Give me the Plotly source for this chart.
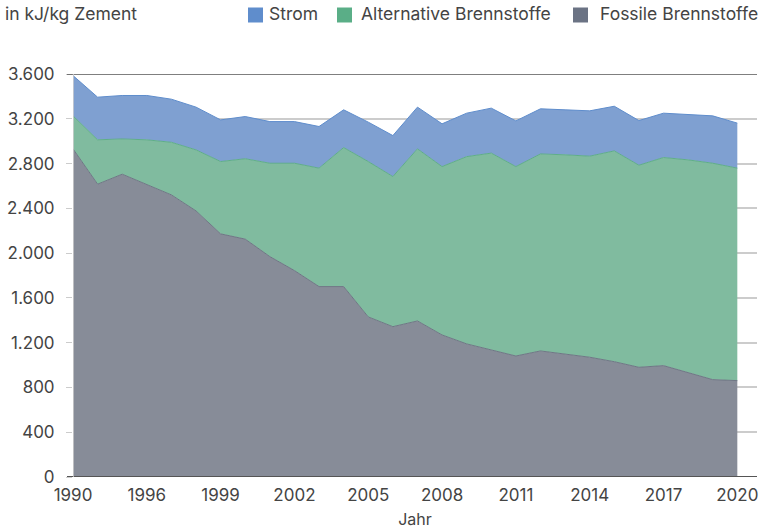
import plotly.graph_objects as go

years = ["1990", "1994", "1995", "1996", "1997", "1998", "1999", "2000", "2001", "2002",
         "2003", "2004", "2005", "2006", "2007", "2008", "2009", "2010", "2011", "2012",
         "2013", "2014", "2015", "2016", "2017", "2018", "2019", "2020"]
fossile = [2931, 2616, 2705, 2609, 2520, 2377, 2172, 2125, 1969, 1844, 1701, 1701, 1430, 1343,
           1394, 1269, 1189, 1135, 1081, 1126, 1099, 1070, 1030, 980, 995, 932, 870, 861]
alternative = [295, 396, 315, 403, 470, 545, 646, 718, 834, 959, 1058, 1242, 1388, 1341,
               1537, 1504, 1673, 1758, 1692, 1760, 1779, 1796, 1883, 1805, 1859, 1901, 1933, 1898]
strom = [360, 381, 388, 396, 385, 382, 372, 377, 372, 372, 372, 337, 352, 366,
         373, 382, 388, 402, 408, 403, 402, 405, 399, 399, 396, 408, 423, 402]
y_ticks = [0, 400, 800, 1200, 1600, 2000, 2400, 2800, 3200, 3600]
y_ticktext = ["0", "400", "800", "1.200", "1.600", "2.000", "2.400", "2.800", "3.200", "3.600"]
x_ticktext = ["1990", "1996", "1999", "2002", "2005", "2008", "2011", "2014", "2017", "2020"]

FONT = "Inter"
TXT = "#444444"
idx = list(range(len(years)))
tick_idx = [years.index(t) for t in x_ticktext]

W, H = 760, 529
L, R, T, B = 73, 3, 74, 52
PW, PH = W - L - R, H - T - B

def px_x(x):
    return (x - L) / PW

def px_y(y):
    return (H - B - y) / PH

fig = go.Figure()
series = [
    ("Fossile Brennstoffe", fossile, "#878c98", "#6f7685", "#6b7384"),
    ("Alternative Brennstoffe", alternative, "#80bb9f", "#5fae88", "#5aae87"),
    ("Strom", strom, "#7fa0d1", "#5f8dcc", "#5f8dcc"),
]
for name, vals, fillc, linec, legc in series:
    fig.add_trace(go.Scatter(
        x=idx, y=vals, name=name, stackgroup="one", mode="lines",
        line=dict(color=linec, width=1), fillcolor=fillc, showlegend=False,
        hoverinfo="skip"))

fig.update_layout(
    width=W, height=H,
    margin=dict(l=L, r=R, t=T, b=B, autoexpand=False),
    paper_bgcolor="white", plot_bgcolor="white",
    font=dict(family=FONT, color=TXT, size=17),
    showlegend=False,
    xaxis=dict(range=[0, 27.8], tickmode="array", tickvals=tick_idx, ticktext=x_ticktext,
               showgrid=False, zeroline=False, showline=False, ticks="",
               ticklabelstandoff=6,
               tickfont=dict(size=17, color=TXT),
               title=dict(text="Jahr", font=dict(size=16, color=TXT), standoff=10)),
    yaxis=dict(range=[0, 3600], tickmode="array", tickvals=y_ticks, ticktext=y_ticktext,
               showgrid=True, gridcolor="#cccccc", gridwidth=1.5, zeroline=False,
               showline=False, ticks="outside", ticklen=6, tickcolor="#cccccc",
               ticklabelstandoff=8,
               tickfont=dict(size=17, color=TXT)),
)
fig.add_shape(type="line", xref="paper", yref="y", x0=px_x(67), x1=1, y0=0, y1=0,
              line=dict(color="#555555", width=2), layer="above")
fig.add_shape(type="line", xref="paper", yref="y", x0=px_x(67), x1=1, y0=3600, y1=3600,
              line=dict(color="#555555", width=1.5), layer="above")
fig.add_shape(type="line", xref="x", yref="paper", x0=0, x1=0, y0=0, y1=1,
              line=dict(color="#d0d0d0", width=1.5), layer="above")

# manual legend (swatch + label)
legend_items = [("Strom", "#5f8dcc", 248, 268),
                ("Alternative Brennstoffe", "#5aae87", 337, 360),
                ("Fossile Brennstoffe", "#6b7384", 573, 599)]
for name, col, sx, tx in legend_items:
    fig.add_shape(type="rect", xref="paper", yref="paper",
                  x0=px_x(sx), x1=px_x(sx + 15), y0=px_y(22.5), y1=px_y(7.5),
                  fillcolor=col, line=dict(width=0))
    fig.add_annotation(text=name, xref="paper", yref="paper",
                       x=px_x(tx), xanchor="left", y=px_y(14), yanchor="middle",
                       showarrow=False, font=dict(size=17.5, color=TXT), xshift=-1)

fig.add_annotation(text="in kJ/kg Zement", xref="paper", yref="paper",
                   x=px_x(3), xanchor="left", y=px_y(14), yanchor="middle",
                   showarrow=False, font=dict(size=17.5, color=TXT))

fig.write_html("out.html", config={"displayModeBar": False},
               post_script="document.body.style.margin='0';")
